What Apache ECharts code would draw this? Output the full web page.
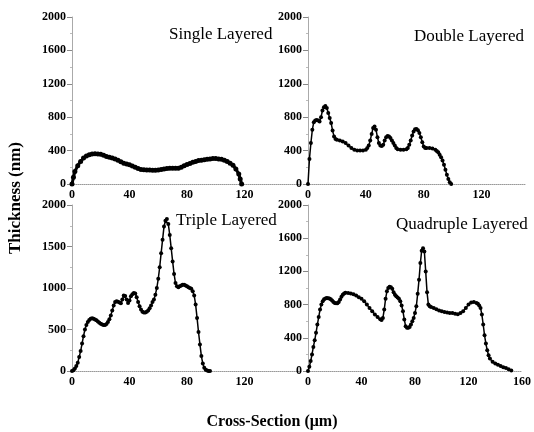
<!DOCTYPE html>
<html>
<head>
    <meta charset="UTF-8">
    <title>Thickness profiles</title>
    <script src="https://cdn.jsdelivr.net/npm/echarts@6/dist/echarts.min.js"></script>
    <style>
        body { margin: 0; background: #fff; }
    </style>
</head>
<body>
<div id="main" style="width:534px; height:432px;"></div>
<script>
    // cross-section (um) and thickness (nm)
    var singleX = [0,1,2,4,6,8,10,12,14,16,18,20,22,24,26,28,30,32,34,36,38,40,42,44,46,48,50,52,54,56,58,60,62,64,66,68,70,72,74,76,78,80,82,84,86,88,90,92,94,96,98,100,102,104,106,108,110,112,114,116,117,118];
    var singleY = [0,80,150,220,270,310,335,350,360,362,360,355,345,330,320,310,300,285,265,250,240,230,215,200,185,175,170,168,168,165,165,168,175,180,185,190,190,188,190,200,220,235,245,260,270,280,285,290,295,300,305,305,300,295,285,270,250,225,180,120,60,0];

    var doubleX = [0,1,2,3,4,5,6,7,8,9,10,11,12,13,14,15,16,17,18,19,20,22,24,26,28,30,32,34,36,38,40,41,42,43,44,45,46,47,48,49,50,51,52,53,54,55,56,57,58,59,60,61,62,64,66,68,69,70,71,72,73,74,75,76,77,78,79,80,81,82,84,86,88,89,90,91,92,93,94,95,96,97,98,99];
    var doubleY = [0,300,490,650,740,760,765,760,750,800,880,920,935,910,850,790,730,640,570,540,530,520,510,490,460,430,410,400,400,400,410,430,460,520,600,670,690,650,560,490,460,455,470,520,560,575,570,550,520,490,460,430,415,410,410,415,430,470,520,580,630,655,660,645,610,560,500,450,430,430,430,425,410,395,380,350,320,280,230,170,110,60,20,0];

    var tripleX = [0,1,2,3,4,5,6,7,8,9,10,11,12,13,14,15,16,17,18,19,20,21,22,23,24,25,26,27,28,29,30,31,32,33,34,35,36,37,38,39,40,41,42,43,44,45,46,47,48,49,50,51,52,53,54,55,56,57,58,59,60,61,62,63,64,65,66,67,68,69,70,71,72,73,74,75,76,77,78,79,80,81,82,83,84,85,86,87,88,89,90,91,92,93,94,95,96];
    var tripleY = [0,10,30,60,100,170,240,330,420,500,555,590,615,630,635,630,620,610,595,580,570,560,555,555,565,590,625,670,730,790,830,840,835,825,815,860,910,905,860,820,850,900,925,940,935,890,830,780,740,715,705,705,715,730,755,790,830,860,920,1000,1110,1250,1420,1580,1740,1810,1830,1770,1640,1480,1320,1170,1060,1020,1010,1020,1030,1040,1040,1030,1020,1010,1000,990,960,910,800,640,470,320,180,90,40,15,5,0,0];

    var quadX = [0,1,2,3,4,5,6,7,8,9,10,11,12,13,14,15,16,17,18,19,20,21,22,23,24,25,26,27,28,30,32,34,36,38,40,42,44,46,48,50,52,54,55,56,57,58,59,60,61,62,63,64,65,66,67,68,69,70,71,72,73,74,75,76,77,78,79,80,81,82,83,84,85,86,87,88,89,90,91,92,94,96,98,100,102,104,106,108,110,112,114,116,118,120,122,124,126,127,128,129,130,131,132,133,134,135,136,138,140,142,144,146,148,150,152];
    var quadY = [0,50,120,200,290,370,460,560,650,740,800,840,865,875,880,878,872,865,850,830,820,815,815,830,860,895,920,935,942,940,935,925,910,890,870,840,800,760,720,680,650,625,615,640,740,870,960,1000,1015,1010,990,950,920,900,885,870,840,790,720,620,540,520,520,530,560,600,640,700,780,930,1100,1300,1450,1480,1440,1200,950,800,780,770,760,745,730,720,710,705,700,700,690,685,700,720,760,800,825,830,820,810,790,760,680,560,430,330,250,190,150,110,90,75,60,45,35,20,5];

    var panelNames = ['Single Layered', 'Double Layered', 'Triple Layered', 'Quadruple Layered'];
    var xMax = [160, 150, 160, 160];
    var yStep = [400, 400, 500, 400];

    function pairs(xs, ys) {
        return xs.map(function (x, i) { return [x, ys[i]]; });
    }
    var profiles = [pairs(singleX, singleY), pairs(doubleX, doubleY), pairs(tripleX, tripleY), pairs(quadX, quadY)];

    var font = 'Liberation Serif';
    var grids = [
        {left: 72, top: 17, width: 230, height: 167},
        {left: 308, top: 17, width: 217, height: 167},
        {left: 72, top: 205, width: 230, height: 166},
        {left: 308, top: 205, width: 215, height: 166}
    ];
    var titlePos = [[169, 26], [414, 28], [176, 212], [396, 216]];

    function plain(v) { return String(v); }

    var xAxes = [], yAxes = [], series = [], graphics = [];
    for (var i = 0; i < 4; i++) {
        xAxes.push({
            gridIndex: i, type: 'value', min: 0, max: xMax[i], interval: 40,
            axisLine: {lineStyle: {color: '#999', width: 1, type: 'dotted'}},
            axisTick: {show: false},
            splitLine: {show: false},
            axisLabel: {
                color: '#000', fontFamily: font, fontWeight: 'bold', fontSize: 12, margin: 5,
                showMaxLabel: i === 3, formatter: plain
            }
        });
        yAxes.push({
            gridIndex: i, type: 'value', min: 0, max: 2000, interval: yStep[i],
            axisLine: {show: true, lineStyle: {color: '#aaa', width: 1}},
            axisTick: {show: true, length: 5, lineStyle: {color: '#888'}},
            minorTick: {show: true, splitNumber: 2, length: 2, lineStyle: {color: '#bbb'}},
            splitLine: {show: false},
            axisLabel: {color: '#000', fontFamily: font, fontWeight: 'bold', fontSize: 12, margin: 6, formatter: plain}
        });
        series.push({
            type: 'line', xAxisIndex: i, yAxisIndex: i, data: profiles[i],
            symbol: 'circle', symbolSize: i === 0 ? 5 : 4, showAllSymbol: true,
            lineStyle: {color: '#000', width: i === 0 ? 3 : 1.5},
            itemStyle: {color: '#000'},
            silent: true
        });
        graphics.push({
            type: 'text', x: titlePos[i][0], y: titlePos[i][1],
            style: {text: panelNames[i], fontFamily: font, fontSize: 17, fill: '#000'}
        });
    }
    graphics.push({
        type: 'text', x: 16, y: 198, rotation: Math.PI / 2,
        style: {text: 'Thickness (nm)', fontFamily: font, fontWeight: 'bold', fontSize: 17,
            fill: '#000', align: 'center', verticalAlign: 'middle'}
    });
    graphics.push({
        type: 'text', x: 272, y: 422,
        style: {text: 'Cross-Section (\u03bcm)', fontFamily: font, fontWeight: 'bold', fontSize: 16,
            fill: '#000', align: 'center', verticalAlign: 'middle'}
    });

    var chart = echarts.init(document.getElementById('main'), null, {renderer: 'canvas'});
    chart.setOption({
        animation: false,
        backgroundColor: '#fff',
        grid: grids,
        xAxis: xAxes,
        yAxis: yAxes,
        series: series,
        graphic: graphics
    });
</script>
</body>
</html>
